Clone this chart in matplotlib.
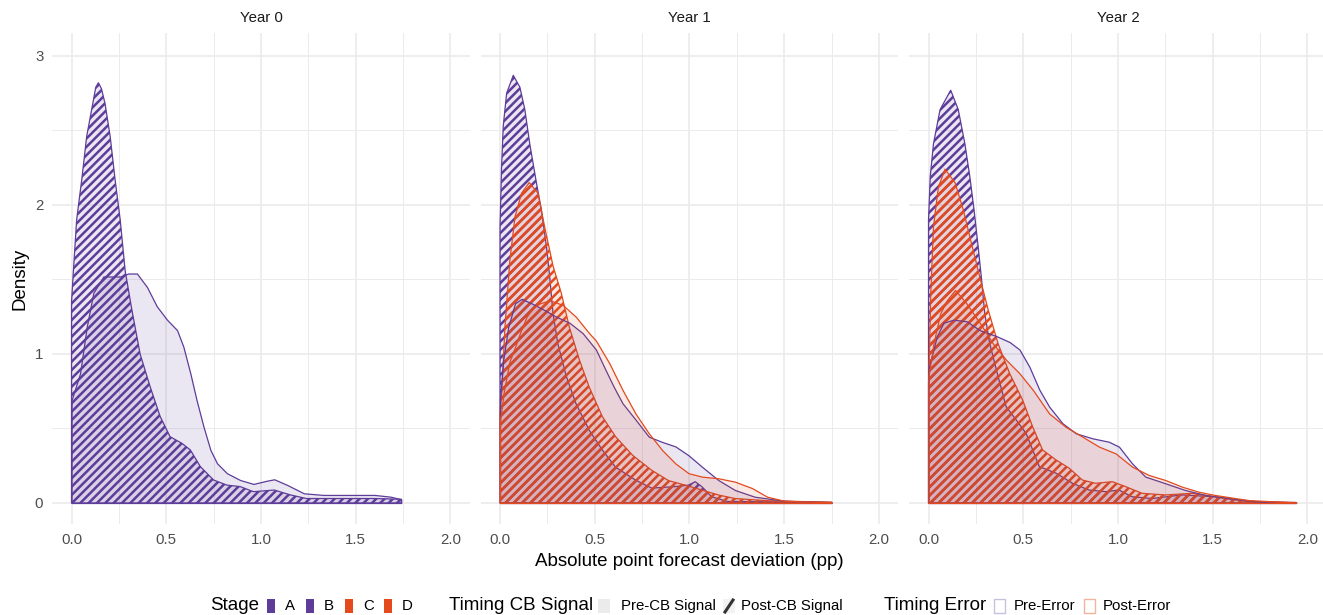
import numpy as np
import matplotlib
matplotlib.use("Agg")
import matplotlib.pyplot as plt
from matplotlib.patches import Rectangle
from matplotlib.lines import Line2D

plt.rcParams['font.family'] = ['Liberation Sans', 'DejaVu Sans']
plt.rcParams['hatch.linewidth'] = 1.8

PURPLE = '#5e3c99'
ORANGE = '#e34a1e'

years = ['Year 0', 'Year 1', 'Year 2']
stages = ['A', 'B', 'C', 'D']
stage_colors = [PURPLE, PURPLE, ORANGE, ORANGE]
x_ticks = [0.0, 0.5, 1.0, 1.5, 2.0]
x_tick_labels = ['0.0', '0.5', '1.0', '1.5', '2.0']
y_ticks = [0, 1, 2, 3]
y_tick_labels = ['0', '1', '2', '3']

# ---- Year 0: pre-error only (purple) ----
y0_post_pre_err_x = [0, 0.01, 0.027, 0.054, 0.08, 0.115, 0.128, 0.142, 0.158, 0.177, 0.204,
                     0.23, 0.257, 0.283, 0.318, 0.362, 0.415, 0.468, 0.52, 0.583, 0.627,
                     0.68, 0.75, 0.82, 0.89, 0.96, 1.07, 1.156, 1.24, 1.4, 1.6, 1.74]
y0_post_pre_err_y = [1.35, 1.56, 1.90, 2.17, 2.46, 2.70, 2.79, 2.82, 2.78, 2.68, 2.46,
                     2.17, 1.90, 1.56, 1.30, 1.00, 0.78, 0.58, 0.445, 0.40, 0.356,
                     0.244, 0.154, 0.12, 0.11, 0.076, 0.087, 0.054, 0.03, 0.03, 0.03, 0.025]
y0_pre_pre_err_x = [0, 0.045, 0.08, 0.115, 0.168, 0.257, 0.30, 0.345, 0.398, 0.45, 0.504,
                    0.557, 0.59, 0.627, 0.66, 0.697, 0.733, 0.768, 0.82, 0.89, 0.96, 1.033,
                    1.07, 1.14, 1.226, 1.33, 1.6, 1.685, 1.74]
y0_pre_pre_err_y = [0.69, 0.87, 1.18, 1.41, 1.52, 1.52, 1.54, 1.54, 1.45, 1.32, 1.23,
                    1.16, 1.05, 0.87, 0.69, 0.51, 0.356, 0.266, 0.20, 0.154, 0.128, 0.15,
                    0.159, 0.12, 0.065, 0.054, 0.054, 0.042, 0.025]

# ---- Year 1 ----
y1_post_pre_err_x = [0, 0.008, 0.017, 0.035, 0.07, 0.105, 0.131, 0.157, 0.192, 0.218, 0.245,
                     0.262, 0.28, 0.305, 0.35, 0.40, 0.47, 0.54, 0.61, 0.715, 0.80, 0.925,
                     0.995, 1.03, 1.065, 1.117, 1.2, 1.75]
y1_post_pre_err_y = [1.85, 2.25, 2.53, 2.75, 2.87, 2.79, 2.64, 2.41, 2.15, 1.97, 1.72,
                     1.52, 1.27, 1.07, 0.85, 0.67, 0.49, 0.356, 0.24, 0.154, 0.10, 0.11,
                     0.12, 0.143, 0.11, 0.042, 0.01, 0.005]
y1_post_post_err_x = [0, 0.009, 0.026, 0.052, 0.079, 0.114, 0.154, 0.2, 0.236, 0.28, 0.323,
                      0.366, 0.419, 0.47, 0.54, 0.61, 0.70, 0.80, 0.89, 0.977, 1.065, 1.152,
                      1.24, 1.414, 1.75]
y1_post_post_err_y = [0.6, 0.74, 1.18, 1.63, 1.92, 2.08, 2.15, 2.08, 1.85, 1.59, 1.41,
                      1.18, 0.96, 0.78, 0.58, 0.445, 0.32, 0.22, 0.15, 0.12, 0.087, 0.054,
                      0.03, 0.015, 0.005]
y1_pre_pre_err_x = [0, 0.017, 0.043, 0.079, 0.114, 0.166, 0.227, 0.297, 0.366, 0.436, 0.506,
                    0.558, 0.60, 0.646, 0.715, 0.785, 0.855, 0.925, 0.995, 1.065, 1.152,
                    1.24, 1.344, 1.5, 1.75]
y1_pre_pre_err_y = [0.7, 0.96, 1.18, 1.34, 1.37, 1.34, 1.30, 1.25, 1.21, 1.14, 1.03,
                    0.89, 0.78, 0.67, 0.56, 0.445, 0.41, 0.38, 0.32, 0.244, 0.154,
                    0.087, 0.042, 0.015, 0.005]
y1_pre_post_err_x = [0, 0.02, 0.05, 0.08, 0.105, 0.14, 0.174, 0.21, 0.262, 0.33, 0.40, 0.47,
                     0.506, 0.576, 0.646, 0.715, 0.785, 0.855, 0.925, 0.995, 1.065, 1.152,
                     1.24, 1.33, 1.41, 1.5, 1.75]
y1_pre_post_err_y = [0.55, 0.75, 0.95, 1.05, 1.14, 1.25, 1.31, 1.34, 1.36, 1.33, 1.25, 1.14,
                     1.09, 0.94, 0.76, 0.60, 0.468, 0.356, 0.266, 0.20, 0.177, 0.166,
                     0.143, 0.10, 0.042, 0.015, 0.005]

# ---- Year 2 ----
y2_post_pre_err_x = [0, 0.009, 0.026, 0.061, 0.117, 0.157, 0.192, 0.218, 0.24, 0.262, 0.28,
                     0.297, 0.323, 0.367, 0.41, 0.463, 0.515, 0.585, 0.673, 0.76, 0.847,
                     0.935, 1.005, 1.074, 1.18, 1.336, 1.51, 1.686, 1.94]
y2_post_pre_err_y = [1.9, 2.19, 2.41, 2.64, 2.77, 2.64, 2.41, 2.19, 1.97, 1.72, 1.5,
                     1.27, 1.07, 0.85, 0.646, 0.557, 0.468, 0.244, 0.2, 0.132, 0.087,
                     0.076, 0.087, 0.042, 0.03, 0.054, 0.042, 0.01, 0.003]
y2_post_post_err_x = [0, 0.004, 0.012, 0.026, 0.052, 0.087, 0.14, 0.183, 0.227, 0.27, 0.314,
                      0.367, 0.428, 0.497, 0.55, 0.602, 0.673, 0.743, 0.812, 0.882, 0.97,
                      1.04, 1.127, 1.25, 1.39, 1.51, 1.686, 1.94]
y2_post_post_err_y = [0.8, 0.96, 1.41, 1.85, 2.12, 2.24, 2.15, 1.97, 1.74, 1.52, 1.30,
                      1.07, 0.87, 0.69, 0.51, 0.356, 0.289, 0.233, 0.154, 0.132, 0.143,
                      0.11, 0.065, 0.054, 0.065, 0.042, 0.01, 0.003]
y2_pre_pre_err_x = [0, 0.044, 0.079, 0.131, 0.2, 0.27, 0.358, 0.428, 0.48, 0.532, 0.585,
                    0.637, 0.707, 0.777, 0.865, 0.952, 1.005, 1.074, 1.144, 1.25, 1.354,
                    1.46, 1.6, 1.74, 1.94]
y2_pre_pre_err_y = [0.9, 1.12, 1.21, 1.23, 1.22, 1.16, 1.12, 1.08, 1.03, 0.915, 0.76,
                    0.646, 0.535, 0.468, 0.434, 0.411, 0.378, 0.266, 0.177, 0.132, 0.087,
                    0.054, 0.03, 0.01, 0.003]
y2_pre_post_err_x = [0, 0.026, 0.061, 0.096, 0.14, 0.2, 0.27, 0.34, 0.41, 0.48, 0.55,
                     0.637, 0.725, 0.812, 0.9, 0.987, 1.074, 1.162, 1.25, 1.336, 1.424,
                     1.51, 1.686, 1.94]
y2_pre_post_err_y = [0.85, 1.07, 1.27, 1.36, 1.43, 1.34, 1.21, 1.07, 0.96, 0.87, 0.76,
                     0.6, 0.51, 0.445, 0.378, 0.333, 0.244, 0.188, 0.154, 0.11, 0.076,
                     0.054, 0.02, 0.003]

# curves per facet, in drawing order: (x, y, colour, hatched)
panels = [
    [(y0_post_pre_err_x, y0_post_pre_err_y, PURPLE, True),
     (y0_pre_pre_err_x, y0_pre_pre_err_y, PURPLE, False)],
    [(y1_post_pre_err_x, y1_post_pre_err_y, PURPLE, True),
     (y1_post_post_err_x, y1_post_post_err_y, ORANGE, True),
     (y1_pre_pre_err_x, y1_pre_pre_err_y, PURPLE, False),
     (y1_pre_post_err_x, y1_pre_post_err_y, ORANGE, False)],
    [(y2_post_pre_err_x, y2_post_pre_err_y, PURPLE, True),
     (y2_post_post_err_x, y2_post_post_err_y, ORANGE, True),
     (y2_pre_pre_err_x, y2_pre_pre_err_y, PURPLE, False),
     (y2_pre_post_err_x, y2_pre_post_err_y, ORANGE, False)],
]

W, H = 1323, 615
fig = plt.figure(figsize=(W / 100, H / 100), dpi=100)
fig.patch.set_facecolor('white')

panel_left = [52, 480.5, 909]
panel_w = 418
top_px, bot_px = 33, 524
GRID = '#ebebeb'

for i, (title, curves) in enumerate(zip(years, panels)):
    ax = fig.add_axes([panel_left[i] / W, 1 - bot_px / H, panel_w / W, (bot_px - top_px) / H])
    ax.set_xlim(-0.103, 2.103)
    ax.set_ylim(-0.141, 3.154)
    ax.set_axisbelow(True)
    for s in ax.spines.values():
        s.set_visible(False)
    ax.set_xticks(x_ticks)
    ax.set_xticklabels(x_tick_labels)
    ax.set_xticks([0.25, 0.75, 1.25, 1.75], minor=True)
    ax.set_yticks(y_ticks)
    ax.set_yticklabels(y_tick_labels if i == 0 else [])
    ax.set_yticks([0.5, 1.5, 2.5], minor=True)
    ax.grid(which='major', color=GRID, lw=1.2)
    ax.grid(which='minor', color=GRID, lw=0.7)
    ax.tick_params(which='both', length=0, labelsize=10.8, labelcolor='#4d4d4d', pad=6.3)

    for xs, ys, col, hatched in curves:
        if hatched:
            ax.fill_between(xs, 0, ys, facecolor=matplotlib.colors.to_rgba(col, 0.12),
                            edgecolor=col, hatch='////', lw=0.9, zorder=2)
        else:
            ax.fill_between(xs, 0, ys, facecolor=matplotlib.colors.to_rgba(col, 0.12),
                            edgecolor=col, lw=0.9, zorder=3)

    fig.text((panel_left[i] + panel_w / 2) / W, 1 - 18 / H, title, ha='center', va='center',
             fontsize=10.8, color='#1a1a1a')

fig.text(689.5 / W, 1 - 561 / H, 'Absolute point forecast deviation (pp)', ha='center',
         va='center', fontsize=13.5)
fig.text(20 / W, 1 - 278.5 / H, 'Density', ha='center', va='center', rotation=90,
         fontsize=13.5)

# ---- legend along the bottom ----
LY = 606
KEY_TOP, KEY_BOT = 599, 613


def key_rect(x0, w, **kw):
    fig.patches.append(Rectangle((x0 / W, 1 - KEY_BOT / H), w / W, (KEY_BOT - KEY_TOP) / H,
                                 transform=fig.transFigure, **kw))


def label(x0, s, size=10.8):
    fig.text(x0 / W, 1 - LY / H, s, ha='left', va='center', fontsize=size)


label(210, 'Stage', 13.5)
stage_key_x = [267, 306, 345, 384]
for sx, st, sc in zip(stage_key_x, stages, stage_colors):
    key_rect(sx, 8, facecolor=sc, edgecolor='none')
    label(sx + 18, st)

label(449, 'Timing CB Signal', 13.5)
key_rect(598, 12, facecolor='#ebebeb', edgecolor='none')
label(621, 'Pre-CB Signal')
key_rect(723, 12, facecolor='#f2f2f2', edgecolor='none')
fig.lines.append(Line2D([725 / W, 733 / W], [1 - 612 / H, 1 - 600 / H], transform=fig.transFigure,
                        color='#333333', lw=2.2))
label(741, 'Post-CB Signal')

label(884, 'Timing Error', 13.5)
key_rect(994, 11, facecolor='white', edgecolor='#c9c2dd', lw=1.0)
label(1014, 'Pre-Error')
key_rect(1084, 11, facecolor='white', edgecolor='#f4b39e', lw=1.0)
label(1103, 'Post-Error')

fig.savefig('out.png', dpi=100, facecolor='white')
